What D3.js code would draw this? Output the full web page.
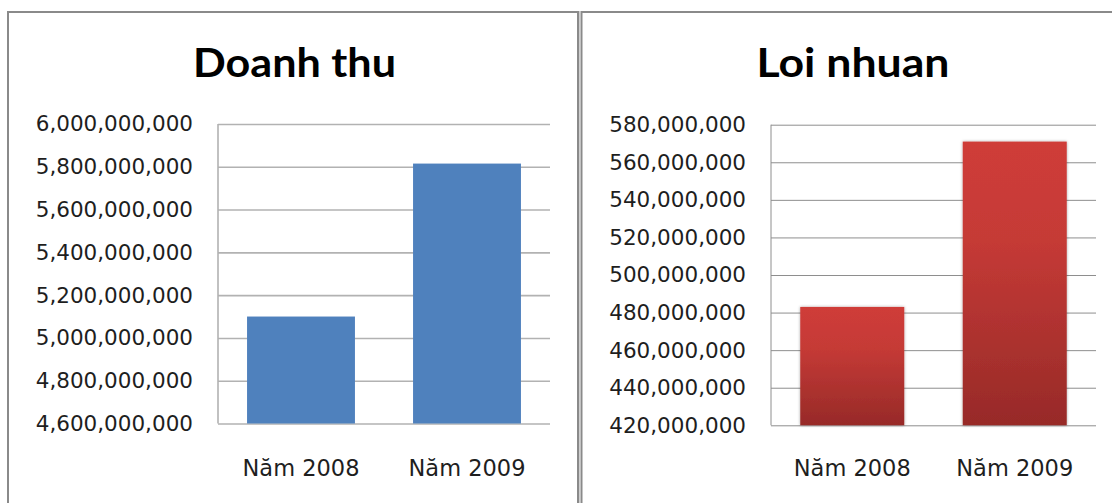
<!DOCTYPE html>
<html>
<head>
<meta charset="utf-8">
<script src="https://cdn.jsdelivr.net/npm/d3@7"></script>
<style>
  html, body { margin: 0; padding: 0; background: #ffffff; }
  svg { display: block; }
</style>
</head>
<body>
<svg id="chart" width="1112" height="503"></svg>
<script>
// ---- data ----
const categories = ["Năm 2008", "Năm 2009"];
const revenue = [5100000000, 5815000000];
const profit = [483000000, 571000000];
const revenueTicks = [4600000000, 4800000000, 5000000000, 5200000000, 5400000000, 5600000000, 5800000000, 6000000000];
const profitTicks = [420000000, 440000000, 460000000, 480000000, 500000000, 520000000, 540000000, 560000000, 580000000];
const titles = ["Doanh thu", "Loi nhuan"];

const svg = d3.select("#chart");
const fmt = d3.format(",");

// defs
const defs = svg.append("defs");
const grad = defs.append("linearGradient").attr("id", "redGrad")
  .attr("x1", 0).attr("y1", 0).attr("x2", 0).attr("y2", 1);
grad.append("stop").attr("offset", "0%").attr("stop-color", "#cf3c39");
grad.append("stop").attr("offset", "35%").attr("stop-color", "#c53a36");
grad.append("stop").attr("offset", "100%").attr("stop-color", "#972a28");
const shadow = defs.append("filter").attr("id", "glow")
  .attr("x", "-10%").attr("y", "-10%").attr("width", "120%").attr("height", "120%");
shadow.append("feDropShadow").attr("dx", 0).attr("dy", 0)
  .attr("stdDeviation", 1.6).attr("flood-color", "#000").attr("flood-opacity", 0.35);

// panel borders
svg.append("rect").attr("x", 8).attr("y", 12).attr("width", 570).attr("height", 520)
  .attr("fill", "#fff").attr("stroke", "#8a8a8a").attr("stroke-width", 2);
svg.append("rect").attr("x", 581.5).attr("y", 12).attr("width", 560).attr("height", 520)
  .attr("fill", "#fff").attr("stroke", "#8a8a8a").attr("stroke-width", 2);
svg.append("line").attr("x1", 579.8).attr("x2", 579.8).attr("y1", 11).attr("y2", 503)
  .attr("stroke", "#c4c4c4").attr("stroke-width", 1.2);

function drawChart(cfg) {
  const g = svg.append("g");
  const y = d3.scaleLinear().domain(cfg.domain).range([cfg.bottom, cfg.top]);
  const x = d3.scaleBand().domain(categories).range([cfg.left, cfg.right])
    .paddingInner(cfg.padIn).paddingOuter(cfg.padOut);

  // title
  g.append("text").attr("x", cfg.titleX).attr("y", 77)
    .attr("text-anchor", "middle")
    .attr("font-family", "Lato, 'Open Sans', sans-serif")
    .attr("font-weight", 700).attr("font-size", 41)
    .attr("textLength", cfg.titleLen).attr("lengthAdjust", "spacingAndGlyphs")
    .attr("fill", "#000").text(cfg.title);

  // gridlines via axis
  const grid = g.append("g").attr("transform", `translate(${cfg.left},0)`)
    .call(d3.axisRight(y).tickValues(cfg.ticks).tickSize(cfg.right - cfg.left).tickFormat(""));
  grid.select(".domain").remove();
  grid.selectAll(".tick line").attr("stroke", cfg.gridColor).attr("stroke-width", cfg.gridWidth);

  // vertical axis line
  g.append("line").attr("x1", cfg.left).attr("x2", cfg.left)
    .attr("y1", cfg.top).attr("y2", cfg.bottom)
    .attr("stroke", cfg.gridColor).attr("stroke-width", cfg.gridWidth);

  // y tick labels
  const yAxis = g.append("g").attr("transform", `translate(${cfg.labelX},0)`)
    .call(d3.axisLeft(y).tickValues(cfg.ticks).tickSize(0).tickPadding(0).tickFormat(fmt));
  yAxis.select(".domain").remove();
  yAxis.selectAll("text").attr("font-family", "'DejaVu Sans', sans-serif")
    .attr("font-size", 21.5).attr("fill", "#1e1e1e");

  // bars
  g.selectAll("rect.bar").data(cfg.values).join("rect").attr("class", "bar")
    .attr("x", (d, i) => x(categories[i]))
    .attr("width", x.bandwidth())
    .attr("y", d => y(d))
    .attr("height", d => cfg.bottom - y(d))
    .attr("fill", cfg.fill)
    .attr("filter", cfg.filter || null);

  // category labels
  const xAxis = g.append("g").attr("transform", `translate(0,${cfg.bottom})`)
    .call(d3.axisBottom(x).tickSize(0).tickPadding(0));
  xAxis.select(".domain").remove();
  xAxis.selectAll("text").attr("y", 476 - cfg.bottom).attr("dy", null)
    .attr("font-family", "'DejaVu Sans', sans-serif")
    .attr("font-size", 22.5).attr("fill", "#1e1e1e");
}

drawChart({
  title: titles[0], titleX: 294.5, titleLen: 203,
  values: revenue, ticks: revenueTicks,
  domain: [4600000000, 6000000000],
  left: 218, right: 550, top: 124, bottom: 423.5,
  padIn: 0.35, padOut: 0.175, labelX: 193,
  gridColor: "#b2b2b2", gridWidth: 1.6,
  fill: "#4f81bd"
});

drawChart({
  title: titles[1], titleX: 853, titleLen: 193,
  values: profit, ticks: profitTicks,
  domain: [420000000, 580000000],
  left: 771, right: 1096, top: 124.7, bottom: 425.3,
  padIn: 0.36, padOut: 0.18, labelX: 746,
  gridColor: "#8e8e8e", gridWidth: 1,
  fill: "url(#redGrad)", filter: "url(#glow)"
});
</script>
</body>
</html>
